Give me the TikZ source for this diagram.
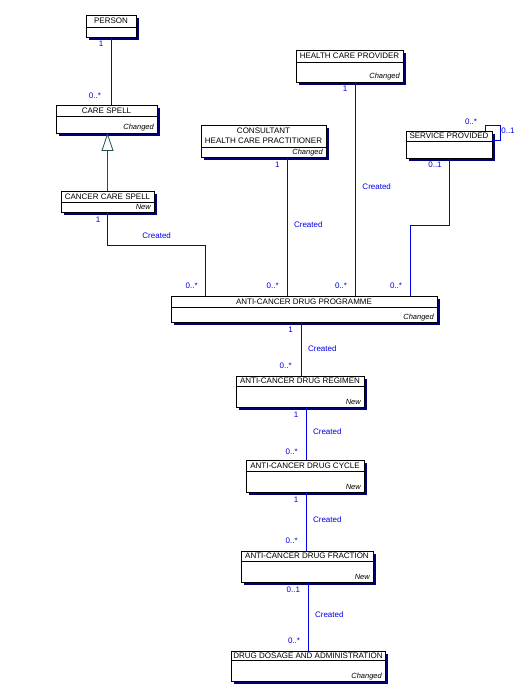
\documentclass[tikz,border=0pt]{standalone}
\usepackage{fontspec}
\setmainfont{Liberation Sans}
\usetikzlibrary{arrows.meta,calc,fit}
\definecolor{lineblue}{RGB}{0,0,230}
\definecolor{shadownavy}{RGB}{0,0,120}
\definecolor{gencol}{RGB}{30,80,80}
\tikzset{
  classbox/.style={draw=black, fill=white, line width=0.8pt, inner sep=0pt, outer sep=0pt},
  divline/.style={draw=black, line width=0.8pt},
  titletext/.style={font=\fontsize{8}{10}\selectfont, inner sep=0pt, align=center},
  tagtext/.style={font=\fontsize{7.5}{9}\selectfont\itshape, inner sep=0pt, anchor=base east},
  assoc/.style={draw=lineblue, line width=0.8pt},
  lbl/.style={text=lineblue, font=\fontsize{8}{9}\selectfont, inner sep=0pt},
  genline/.style={draw=gencol, line width=0.8pt, -{Triangle[open,length=18pt,width=12pt]}},
}
% name, x1, y1, x2, y2, ydiv, title
\newcommand{\umlclass}[7]{%
  \fill[shadownavy] (#2+3,#3+3) rectangle (#4+3,#5+3);
  \coordinate (#1-nw) at (#2,#3);
  \coordinate (#1-se) at (#4,#5);
  \node[classbox, fit=(#1-nw)(#1-se)] (#1) {};
  \coordinate (#1-d) at (#2,#6);
  \draw[divline] (#1-d) -- (#1-d -| #1.east);
  \node[titletext] (#1-title) at ({(#2+#4)/2},{(#3+#6)/2}) {#7};
}
\newcommand{\umltag}[4]{% name, x2, y2, text
  \node[tagtext] (#1-tag) at (#2-3,#3-3) {#4};
}
\begin{document}
\begin{tikzpicture}[x=1pt,y=-1pt]
\useasboundingbox[fill=white] (0,0) rectangle (529,695);

\umlclass{person}{86}{15}{136}{37}{27}{PERSON}
\umlclass{carespell}{56}{105}{157}{133}{116}{CARE SPELL}
\umltag{carespell}{157}{133}{Changed}
\umlclass{ccs}{61}{191}{154}{212}{202}{CANCER CARE SPELL}
\umltag{ccs}{154}{212}{New}
\umlclass{hcp}{296}{50}{403}{82}{62}{HEALTH CARE PROVIDER}
\umltag{hcp}{403}{82}{Changed}
\umlclass{chcp}{201}{125}{326}{157}{147}{CONSULTANT\\HEALTH CARE PRACTITIONER}
\umltag{chcp}{326}{157}{Changed}
\umlclass{sp}{406}{131}{492}{158}{141}{SERVICE PROVIDED}
\umlclass{adp}{171}{296}{437}{322}{307}{ANTI-CANCER DRUG PROGRAMME}
\umltag{adp}{437}{322}{Changed}
\umlclass{reg}{236}{376}{364}{407}{386}{ANTI-CANCER DRUG REGIMEN}
\umltag{reg}{364}{407}{New}
\umlclass{cyc}{246}{460}{364}{492}{471}{ANTI-CANCER DRUG CYCLE}
\umltag{cyc}{364}{492}{New}
\umlclass{frac}{241}{551}{373}{582}{561}{ANTI-CANCER DRUG FRACTION}
\umltag{frac}{373}{582}{New}
\umlclass{dda}{231}{651}{385}{681}{660}{DRUG DOSAGE AND ADMINISTRATION}
\umltag{dda}{385}{681}{Changed}

% helper coordinates
\coordinate (kp) at (111.7,0);
\coordinate (k1) at (205,245.3);
\coordinate (k2) at (287.3,0);
\coordinate (k3) at (355.5,0);
\coordinate (k4) at (410,225);
\coordinate (s1) at (485.7,125);
\coordinate (s2) at (500,140);
\coordinate (k5) at (301.7,0);
\coordinate (k6) at (306.3,0);
\coordinate (k7) at (308.3,0);

% connectors
\draw[assoc] (person.south -| kp) -- (carespell.north -| kp);
\draw[genline] (ccs.north) -- (ccs.north |- carespell.south);
\draw[assoc] (ccs.south) |- (k1) -- (k1 |- adp.north);
\draw[assoc] (chcp.south -| k2) -- (adp.north -| k2);
\draw[assoc] (hcp.south -| k3) -- (adp.north -| k3);
\draw[assoc] (sp.south) |- (k4) -- (k4 |- adp.north);
\draw[assoc] (sp.north -| s1) -- (s1) -| (s2) -- (sp.east |- s2);
\draw[assoc] (adp.south -| k5) -- (reg.north -| k5);
\draw[assoc] (reg.south -| k6) -- (cyc.north -| k6);
\draw[assoc] (cyc.south -| k6) -- (frac.north -| k6);
\draw[assoc] (frac.south -| k7) -- (dda.north -| k7);

% labels
\node[lbl] (l1) at (101,44) {1};
\node[lbl] (l2) at (95,96) {0..*};
\node[lbl] (l3) at (98,220) {1};
\node[lbl] (l4) at (156.7,236) {Created};
\node[lbl] (l5) at (191.7,286) {0..*};
\node[lbl] (l6) at (277.3,165) {1};
\node[lbl] (l7) at (308.3,225) {Created};
\node[lbl] (l8) at (272.7,286) {0..*};
\node[lbl] (l9) at (345,89) {1};
\node[lbl] (l10) at (376.7,186.7) {Created};
\node[lbl] (l11) at (341,286) {0..*};
\node[lbl] (l12) at (435,164.3) {0..1};
\node[lbl] (l13) at (396,286) {0..*};
\node[lbl] (l14) at (471,121.7) {0..*};
\node[lbl] (l15) at (508,131) {0..1};
\node[lbl] (l16) at (290.7,330) {1};
\node[lbl] (l17) at (322.3,348.3) {Created};
\node[lbl] (l18) at (285.7,365.7) {0..*};
\node[lbl] (l19) at (296,414.3) {1};
\node[lbl] (l20) at (327.3,431.7) {Created};
\node[lbl] (l21) at (291.7,451.7) {0..*};
\node[lbl] (l22) at (296,499.3) {1};
\node[lbl] (l23) at (327.3,520) {Created};
\node[lbl] (l24) at (291.7,540.7) {0..*};
\node[lbl] (l25) at (293.3,589.3) {0..1};
\node[lbl] (l26) at (329.3,615) {Created};
\node[lbl] (l27) at (294,641) {0..*};
\end{tikzpicture}
\end{document}
